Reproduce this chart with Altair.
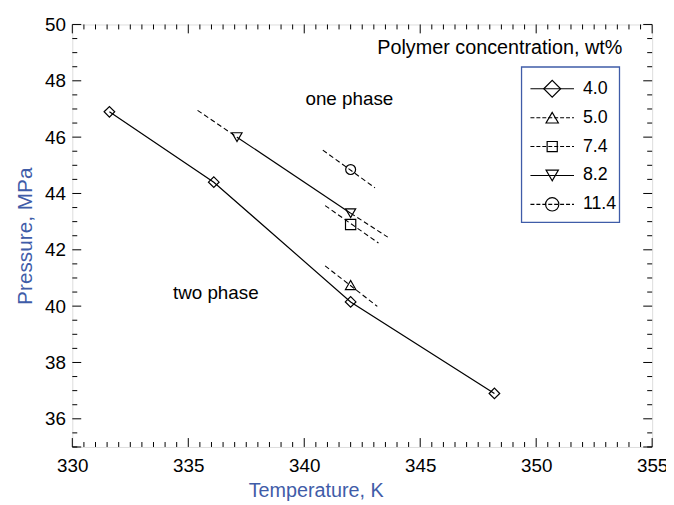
import altair as alt
import pandas as pd

# ---- data ----
series_names = ["4.0", "5.0", "7.4", "8.2", "11.4"]
T_40 = [331.6, 336.1, 342.0, 348.2]
P_40 = [46.9, 44.4, 40.15, 36.9]
T_50 = [342.0]
P_50 = [40.75]
T_74 = [342.0]
P_74 = [42.9]
T_82 = [337.1, 342.0]
P_82 = [46.0, 43.3]
T_114 = [342.0]
P_114 = [44.85]

# dashed guide segments (start / end)
guide_ids = ["5.0", "7.4", "8.2a", "8.2b", "11.4"]
guide_T0 = [340.9, 340.9, 335.4, 342.0, 340.8]
guide_P0 = [41.43, 43.57, 46.95, 43.3, 45.54]
guide_T1 = [343.15, 343.2, 337.1, 343.6, 343.05]
guide_P1 = [39.99, 42.24, 46.0, 42.45, 44.2]

x_major = [330, 335, 340, 345, 350, 355]
y_major = [36, 38, 40, 42, 44, 46, 48, 50]
x_minor = [330 + 0.5 * i for i in range(51) if (i % 10) != 0]
y_minor = [35 + 0.5 * i for i in range(31) if (i % 4) != 2]

FONT = "Liberation Sans"
BLUE = "#3f5ca8"
W, H = 586, 427

xs = alt.Scale(domain=[330, 355], nice=False, zero=False)
ys = alt.Scale(domain=[35, 50], nice=False, zero=False)

rows = []
for name, T, P in [("4.0", T_40, P_40), ("5.0", T_50, P_50), ("7.4", T_74, P_74),
                   ("8.2", T_82, P_82), ("11.4", T_114, P_114)]:
    for t, p in zip(T, P):
        rows.append({"series": name, "T": t, "P": p})
pts = pd.DataFrame(rows)
solid = pts[pts["series"].isin(["4.0", "8.2"])]

guides = pd.DataFrame({"id": guide_ids, "T0": guide_T0, "P0": guide_P0,
                       "T1": guide_T1, "P1": guide_P1})

shape_scale = alt.Scale(domain=series_names,
                        range=["diamond", "triangle-up", "square", "triangle-down", "circle"])
size_scale = alt.Scale(domain=series_names, range=[115, 100, 70, 100, 120])

xenc = alt.X("T:Q", scale=xs,
             axis=alt.Axis(values=x_major, format="d", ticks=False, domain=False, grid=False,
                           labelFlush=False, labelFontSize=19, labelFont=FONT, labelColor="black",
                           labelPadding=10, title="Temperature, K", titleFont=FONT,
                           titleFontSize=20, titleFontWeight="normal", titleColor=BLUE,
                           titlePadding=5, titleX=246))
yenc = alt.Y("P:Q", scale=ys,
             axis=alt.Axis(values=y_major, format="d", ticks=False, domain=False, grid=False,
                           labelFlush=False, labelFontSize=19, labelFont=FONT, labelColor="black",
                           labelPadding=7, title="Pressure, MPa", titleFont=FONT,
                           titleFontSize=21, titleFontWeight="normal", titleColor=BLUE,
                           titlePadding=9))

lines = alt.Chart(solid).mark_line(color="black", strokeWidth=1.2).encode(
    x=xenc, y=yenc, detail="series:N", order="T:Q")

guide_layer = alt.Chart(guides).mark_rule(color="black", strokeWidth=1.1,
                                          strokeDash=[5, 3]).encode(
    x=alt.X("T0:Q", scale=xs), y=alt.Y("P0:Q", scale=ys), x2="T1:Q", y2="P1:Q")

points = alt.Chart(pts).mark_point(filled=False, color="black", strokeWidth=1.2,
                                   opacity=1).encode(
    x=alt.X("T:Q", scale=xs), y=alt.Y("P:Q", scale=ys),
    shape=alt.Shape("series:N", scale=shape_scale, legend=None),
    size=alt.Size("series:N", scale=size_scale, legend=None))

# ---- ticks (inward, on all four sides) ----
xmaj = pd.DataFrame({"v": x_major})
xmin = pd.DataFrame({"v": x_minor})
ymaj = pd.DataFrame({"v": y_major + [35]})
ymin = pd.DataFrame({"v": y_minor})

def xticks(df, L):
    b = alt.Chart(df).mark_rule(color="black", strokeWidth=1).encode(
        x=alt.X("v:Q", scale=xs), y=alt.value(H), y2=alt.value(H - L))
    t = alt.Chart(df).mark_rule(color="black", strokeWidth=1).encode(
        x=alt.X("v:Q", scale=xs), y=alt.value(0), y2=alt.value(L))
    return b + t

def yticks(df, L):
    l = alt.Chart(df).mark_rule(color="black", strokeWidth=1).encode(
        y=alt.Y("v:Q", scale=ys), x=alt.value(0), x2=alt.value(L))
    r = alt.Chart(df).mark_rule(color="black", strokeWidth=1).encode(
        y=alt.Y("v:Q", scale=ys), x=alt.value(W), x2=alt.value(W - L))
    return l + r

ticks = xticks(xmaj, 9) + xticks(xmin, 5) + yticks(ymaj, 9) + yticks(ymin, 5)

# ---- annotations ----
ann_one = alt.Chart(pd.DataFrame({"t": ["one phase"]})).mark_text(
    font=FONT, fontSize=19, color="black").encode(
    x=alt.value(280), y=alt.value(75), text="t:N")
ann_two = alt.Chart(pd.DataFrame({"t": ["two phase"]})).mark_text(
    font=FONT, fontSize=19, color="black").encode(
    x=alt.value(145), y=alt.value(271), text="t:N")
ann_poly = alt.Chart(pd.DataFrame({"t": ["Polymer concentration, wt%"]})).mark_text(
    font=FONT, fontSize=20, color="black").encode(
    x=alt.value(432), y=alt.value(24), text="t:N")

# ---- hand-made legend ----
leg = pd.DataFrame({"series": series_names, "idx": list(range(len(series_names)))})
leg_base = alt.Chart(leg).transform_calculate(
    ly="65 + datum.idx * 29.2",
    lsz="datum.series == '4.0' ? 290 : datum.series == '7.4' ? 105 : datum.series == '11.4' ? 180 : 155")
leg_box = alt.Chart(pd.DataFrame({"a": [0]})).mark_rect(
    fill="white", stroke=BLUE, strokeWidth=1.3).encode(
    x=alt.value(454), x2=alt.value(553), y=alt.value(43), y2=alt.value(200))
leg_lines = leg_base.mark_rule(color="black", strokeWidth=1.1).encode(
    x=alt.value(463), x2=alt.value(507), y=alt.Y("ly:Q", scale=None),
    strokeDash=alt.StrokeDash("series:N", scale=alt.Scale(
        domain=series_names, range=[[1, 0], [4, 2], [4, 2], [1, 0], [4, 2]]), legend=None))
leg_pts = leg_base.mark_point(filled=False, color="black", strokeWidth=1.2, opacity=1,
                              fill="white", fillOpacity=0).encode(
    x=alt.value(485), y=alt.Y("ly:Q", scale=None),
    shape=alt.Shape("series:N", scale=shape_scale, legend=None),
    size=alt.Size("lsz:Q", scale=None))
leg_txt = leg_base.mark_text(font=FONT, fontSize=18, align="left", baseline="middle",
                             color="black").encode(
    x=alt.value(516), y=alt.Y("ly:Q", scale=None), text="series:N")

chart = alt.layer(
    lines, guide_layer, points, ticks, ann_one, ann_two, ann_poly,
    leg_box, leg_lines, leg_pts, leg_txt
).properties(
    width=W, height=H,
    autosize=alt.AutoSizeParams(type="none"),
    padding={"left": 65, "top": 14, "right": 14, "bottom": 56},
).configure_view(stroke="black", strokeWidth=1.2).configure(background="white")

chart.save("out.html", embed_options={"renderer": "svg", "actions": False})
